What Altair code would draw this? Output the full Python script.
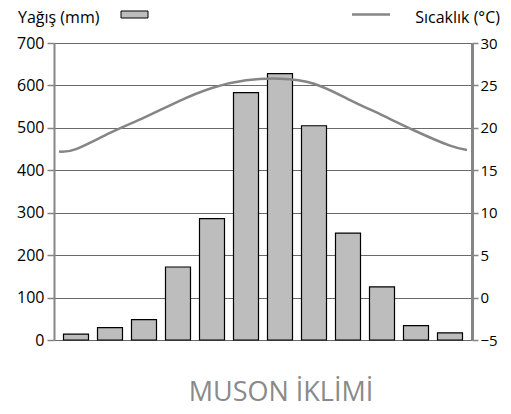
import altair as alt
import pandas as pd

months = list(range(1, 13))
rain = [14, 29, 48, 172, 286, 583, 628, 505, 252, 125, 34, 17]
temp_x = [0.5, 1, 2, 3, 4, 5, 6, 7, 8, 9, 10, 11, 12, 12.5]
temp = [17.2, 17.5, 19.4, 21.2, 23.1, 24.7, 25.6, 25.8, 25.2, 23.4, 21.5, 19.6, 17.9, 17.4]
rain_ticks = [0, 100, 200, 300, 400, 500, 600, 700]
temp_ticks = [-5, 0, 5, 10, 15, 20, 25, 30]
title_text = "MUSON İKLİMİ"
rain_label = "Yağış (mm)"
temp_label = "Sıcaklık (°C)"

FONT = "Open Sans"
GRAY = "#858585"

df_rain = pd.DataFrame({"month": months, "rain": rain})
df_temp = pd.DataFrame({"month": temp_x, "temp": temp})

xscale = alt.Scale(domain=[0.5, 12.5], nice=False, zero=False)

bars = alt.Chart(df_rain).mark_bar(
    size=25, fill="#bdbdbd", stroke="black", strokeWidth=1.2
).encode(
    x=alt.X("month:Q", scale=xscale, title=None,
            axis=alt.Axis(values=months, ticks=False, grid=False, domainColor="black",
                          domainWidth=3, labelFontSize=16, labelFont=FONT, labelColor="black",
                          labelPadding=4, format="d")),
    y=alt.Y("rain:Q", scale=alt.Scale(domain=[0, 700], nice=False), title=None,
            axis=alt.Axis(values=rain_ticks, orient="left", grid=True, gridColor="#6a6a6a",
                          gridWidth=1.2, domainColor=GRAY, domainWidth=2, tickColor=GRAY,
                          tickWidth=1.5, tickSize=7, labelFontSize=16, labelFont=FONT,
                          labelColor="black", labelPadding=3)),
)

line = alt.Chart(df_temp).mark_line(
    color=GRAY, strokeWidth=2.5, interpolate="natural"
).encode(
    x=alt.X("month:Q", scale=xscale, axis=None),
    y=alt.Y("temp:Q", scale=alt.Scale(domain=[-5, 30], nice=False, zero=False), title=None,
            axis=alt.Axis(values=temp_ticks, orient="right", grid=False, domainColor=GRAY,
                          domainWidth=3, tickColor=GRAY, tickWidth=1.5, tickSize=6,
                          labelFontSize=15, labelFont=FONT, labelColor="black", labelPadding=2)),
)

lab = pd.DataFrame({"t": [rain_label]})
legend_rain_text = alt.Chart(lab).mark_text(
    align="left", baseline="alphabetic", fontSize=16, font=FONT, color="black"
).encode(text="t:N", x=alt.value(-36), y=alt.value(-20))

legend_rain_box = alt.Chart(lab).mark_rect(
    fill="#bdbdbd", stroke="black", strokeWidth=1
).encode(x=alt.value(67), x2=alt.value(94), y=alt.value(-32), y2=alt.value(-25))

lab2 = pd.DataFrame({"t": [temp_label]})
legend_temp_line = alt.Chart(lab2).mark_rule(
    color=GRAY, strokeWidth=2.5
).encode(x=alt.value(298), x2=alt.value(336), y=alt.value(-28.5))

legend_temp_text = alt.Chart(lab2).mark_text(
    align="right", baseline="alphabetic", fontSize=16, font=FONT, color="black"
).encode(text="t:N", x=alt.value(446), y=alt.value(-20))

tt = pd.DataFrame({"t": [title_text]})
title = alt.Chart(tt).mark_text(
    align="center", baseline="alphabetic", fontSize=27, font=FONT, color="#8a8a8a"
).encode(text="t:N", x=alt.value(227), y=alt.value(358))

chart = alt.layer(
    bars, line, legend_rain_text, legend_rain_box, legend_temp_line, legend_temp_text, title
).resolve_scale(y="independent").properties(
    width=418, height=297,
    autosize=alt.AutoSizeParams(type="none"),
    padding={"left": 46, "top": 35, "right": 31, "bottom": 66},
).configure_view(strokeWidth=0)

chart.save("out.html", embed_options={"renderer": "svg", "actions": False})
